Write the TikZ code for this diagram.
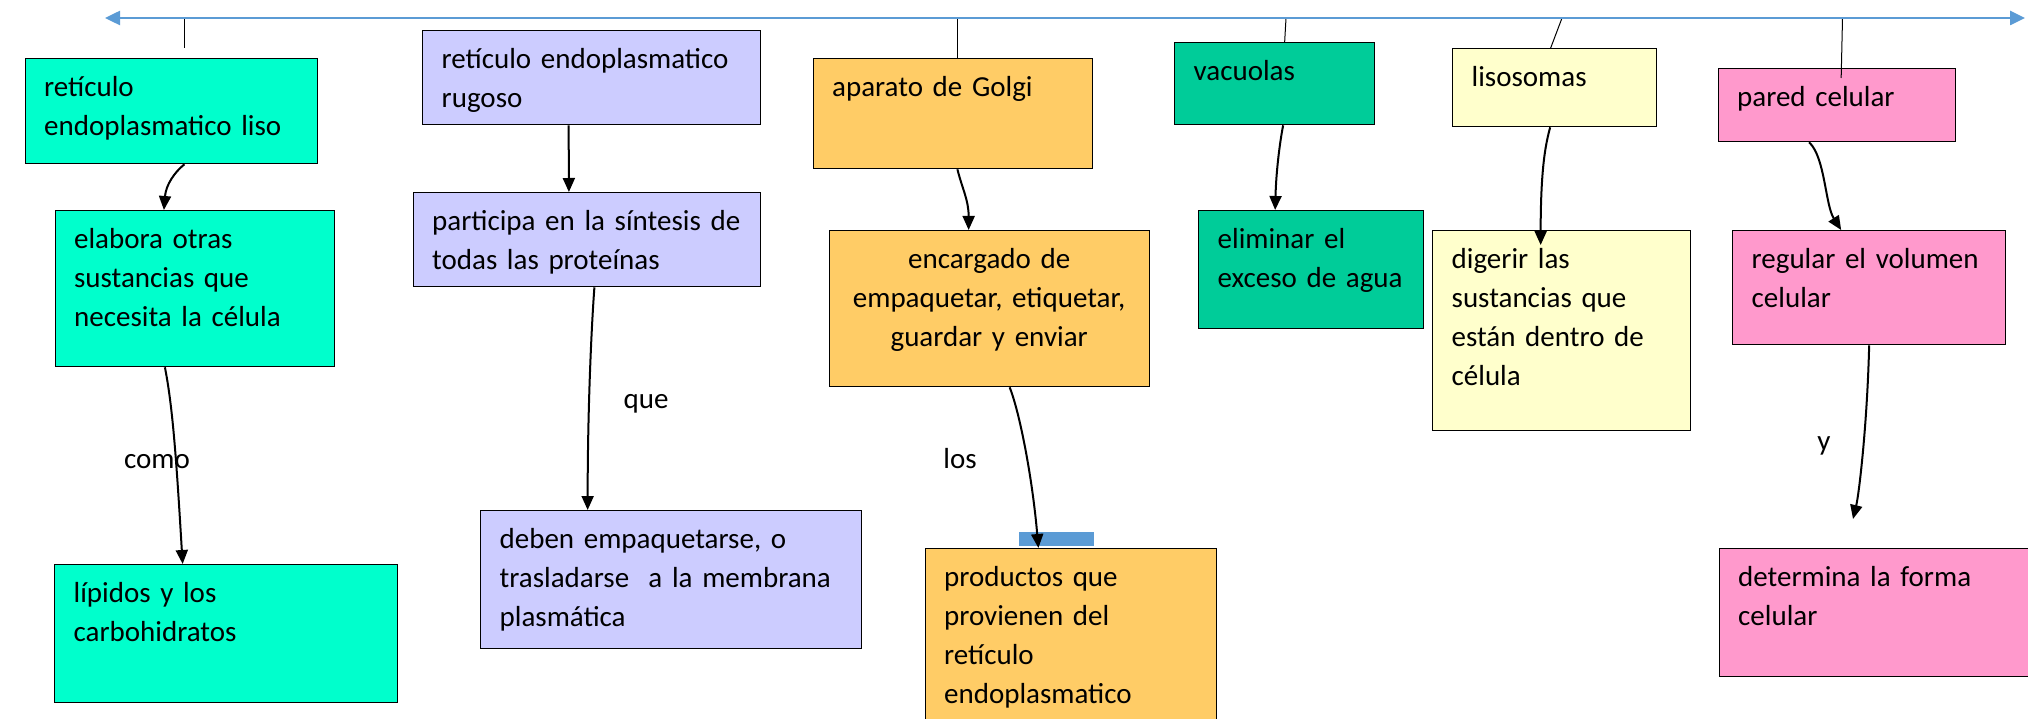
\documentclass[tikz,border=0pt]{standalone}
\usepackage{fontspec}
\setmainfont{Carlito}
\usetikzlibrary{arrows.meta}
\definecolor{aguamarina}{HTML}{00FFCC}
\definecolor{lila}{HTML}{CCCCFF}
\definecolor{naranja}{HTML}{FFCC66}
\definecolor{verde}{HTML}{00CC99}
\definecolor{crema}{HTML}{FFFFCC}
\definecolor{rosa}{HTML}{FF99CC}
\definecolor{azul}{HTML}{5B9BD5}
\newcommand{\letra}{\fontsize{29}{39}\selectfont\spaceskip=6.5pt\relax}

\begin{document}
\begin{tikzpicture}[x=1pt, y=-1pt,
    caja/.style 2 args={rectangle, draw, line width=1.3pt, anchor=north west, inner xsep=19pt, inner ysep=11pt,
        text width={#1-38pt}, text height=27pt, text depth={#2-49pt}, align=left, font=\letra},
    rotulo/.style={anchor=base, inner sep=0pt, font=\letra},
    flecha/.style={-{Triangle[length=14pt,width=12pt]}, line width=2pt},
    palito/.style={line width=1pt},
    linea/.style={{Triangle[length=15pt,width=14pt]}-{Triangle[length=15pt,width=14pt]}, line width=2.5pt, draw=azul}]
    \useasboundingbox (0,0) rectangle (2028,719);

    \node[caja={292.5pt}{105pt}, fill=aguamarina] (retLiso) at (24.5,58) {retículo\\endoplasmatico liso};
    \node[caja={279.5pt}{156pt}, fill=aguamarina] (elabora) at (54.5,210) {elabora otras\\sustancias que\\necesita la célula};
    \node[caja={343pt}{138pt}, fill=aguamarina] (lipidos) at (54,564) {lípidos y los\\carbohidratos};
    \node[caja={338pt}{94pt}, fill=lila] (retRugoso) at (422,30) {retículo endoplasmatico\\rugoso};
    \node[caja={347.5pt}{94pt}, fill=lila] (participa) at (412.5,192) {participa en la síntesis de\\todas las proteínas};
    \node[caja={381pt}{138pt}, fill=lila] (deben) at (480,510) {deben empaquetarse, o\\trasladarse~ a la membrana\\plasmática};
    \node[caja={279.5pt}{110pt}, fill=naranja] (golgi) at (812.5,58) {aparato de Golgi};
    \node[caja={320pt}{156pt}, fill=naranja, align=center] (encargado) at (828.5,230) {encargado de\\empaquetar, etiquetar,\\guardar y enviar};
    \node[caja={291.5pt}{180pt}, fill=naranja] (productos) at (924.5,548) {productos que\\provienen del\\retículo\\endoplasmatico};
    \node[caja={200pt}{82pt}, fill=verde] (vacuolas) at (1174,42) {vacuolas};
    \node[caja={225pt}{118pt}, fill=verde] (eliminar) at (1198,210) {eliminar el\\exceso de agua};
    \node[caja={204pt}{78pt}, fill=crema] (lisosomas) at (1452,48) {lisosomas};
    \node[caja={258pt}{200pt}, fill=crema] (digerir) at (1432,230) {digerir las\\sustancias que\\están dentro de\\célula};
    \node[caja={237pt}{73pt}, fill=rosa] (pared) at (1717.5,68) {pared celular};
    \node[caja={273pt}{114pt}, fill=rosa] (regular) at (1732,230) {regular el volumen\\celular};
    \node[caja={320pt}{128pt}, fill=rosa] (determina) at (1718.5,548) {determina la forma\\celular};

    \node[rotulo] (como) at (157,468) {como};
    \node[rotulo] (que) at (646,408) {que};
    \node[rotulo] (los) at (960,468) {los};
    \node[rotulo] (conY) at (1824,450) {y};

    \coordinate (izq) at (105,18);
    \coordinate (der) at (2025,18);
    \coordinate (tA) at (184,18);
    \coordinate (tA2) at (184,48);
    \coordinate (tC) at (957,18);
    \coordinate (tD) at (1286,18);
    \coordinate (tE) at (1562,18);
    \coordinate (tF) at (1842.5,18);
    \coordinate (finY) at (1853,519);

    \draw[palito] (tA) -- (tA2);
    \draw[palito] (tC) -- (tC |- golgi.north);
    \draw[palito] (tD) -- ([xshift=10pt]vacuolas.north);
    \draw[palito] (tE) -- ([xshift=-4pt]lisosomas.north);
    \draw[palito] (tF) -- ([xshift=4.5pt,yshift=-10pt]pared.north);
    \draw[linea] (izq) -- (der);

    \fill[azul] (1019,532) rectangle (1094,546);

    \draw[flecha] ([xshift=13pt]retLiso.south) .. controls +(-10,8) and +(2,-25) .. ([xshift=-31pt]elabora.north);
    \draw[flecha] ([xshift=-30pt]elabora.south) .. controls +(8,40) and +(-6,-100) .. ([xshift=-43.5pt]lipidos.north);
    \draw[flecha] ([xshift=-23pt]retRugoso.south) -- ([xshift=-18pt]participa.north);
    \draw[flecha] ([xshift=7.5pt]participa.south) .. controls +(-3,40) and +(0,-100) .. ([xshift=-83.5pt]deben.north);
    \draw[flecha] ([xshift=4.5pt]golgi.south) .. controls +(5,20) and +(0,-30) .. ([xshift=-20.5pt]encargado.north);
    \draw[flecha] ([xshift=20.5pt]encargado.south) .. controls +(10,25) and +(-6,-70) .. ([xshift=-32.5pt]productos.north);
    \draw[flecha] ([xshift=8.5pt]vacuolas.south) .. controls +(-3,15) and +(1,-40) .. ([xshift=-36pt]eliminar.north);
    \draw[flecha] ([xshift=-4.5pt]lisosomas.south) .. controls +(-4,15) and +(0,-80) .. ([xshift=-21pt,yshift=-15pt]digerir.north);
    \draw[flecha] ([xshift=-27.5pt]pared.south) .. controls +(16,15) and +(-16,-25) .. ([xshift=-28pt]regular.north);
    \draw[flecha] (regular.south) .. controls +(-2,80) and +(6,-25) .. (finY);
\end{tikzpicture}
\end{document}
